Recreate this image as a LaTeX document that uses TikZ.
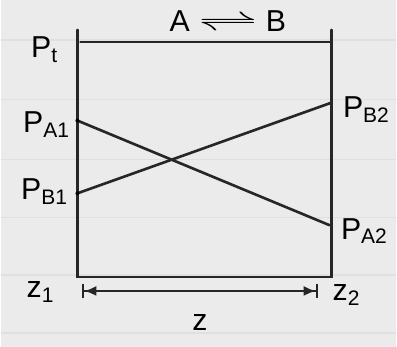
\documentclass[tikz,border=0pt]{standalone}
\usepackage{fontspec}
\setmainfont{Liberation Sans}
\usetikzlibrary{arrows.meta,positioning}

\begin{document}
\begin{tikzpicture}[x=0.02cm,y=-0.02cm,
  pen/.style={black!85,line width=1.5pt,line cap=round},
  span/.style={{Bar[width=3mm]Latex[length=2.4mm,width=2mm]}-{Latex[length=2.4mm,width=2mm]Bar[width=3mm]}},
  lbl/.style={font=\LARGE,inner sep=1pt},
  rule/.style={black!12,line width=0.8pt}]
\fill[black!8] (0,0) rectangle (397,348);
\foreach \ry in {40,100,160,218,276,334}
  \draw[rule] (0,\ry) -- (397,\ry);
% corners of the box
\coordinate (tl) at (77,30);
\coordinate (tr) at (332,30);
\coordinate (bl) at (77,278);
\coordinate (br) at (332,278);
\coordinate (t0) at (80,42);
\coordinate (t1) at (332,42);
% partial pressure end points
\coordinate (a1) at (77,121);
\coordinate (a2) at (330,226);
\coordinate (b1) at (77,194);
\coordinate (b2) at (332,103);
\coordinate (z1) at (82,292);
\coordinate (z2) at (318,292);
\draw[pen] (tl) -- (bl) -- (br) -- (tr);
\draw[pen] (t0) -- (t1);
\draw[pen] (a1) -- (a2);
\draw[pen] (b1) -- (b2);
\fill (a1) circle (2);
\fill (b1) circle (2);
\draw[pen,line width=1.1pt,span] (z1) -- (z2);
% labels
\node[lbl] (pt) at (44,50) {P\textsubscript{t}};
\node[lbl] (pa1) at (46,125) {P\textsubscript{A1}};
\node[lbl] (pb1) at (44,192) {P\textsubscript{B1}};
\node[lbl] (pb2) at (367,110) {P\textsubscript{B2}};
\node[lbl] (pa2) at (365,232) {P\textsubscript{A2}};
\node[lbl] (lz1) at (40,293) {z\textsubscript{1}};
\node[lbl] (lz2) at (347,296) {z\textsubscript{2}};
\node[lbl] (lz) at (200,324) {z};
\node[lbl] (rx) at (228,21) {A \scalebox{2}[1]{$\rightleftharpoons$} B};
\end{tikzpicture}
\end{document}
